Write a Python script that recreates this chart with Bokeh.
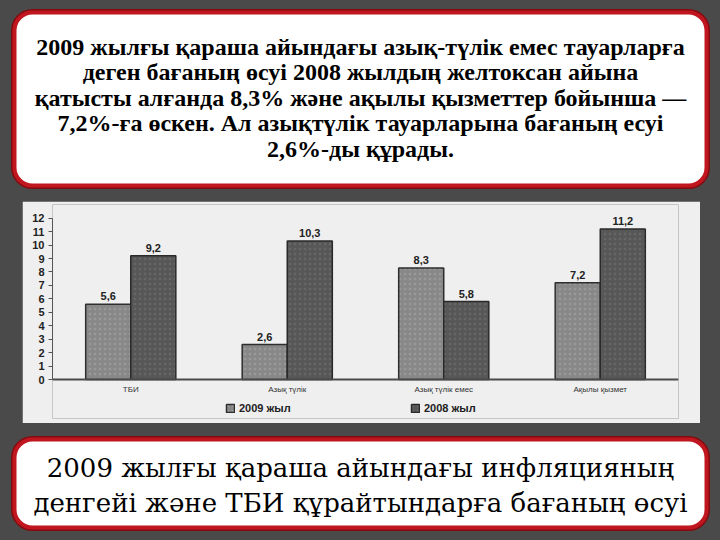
from bokeh.plotting import figure
from bokeh.models import (ColumnDataSource, Range1d, FactorRange, FixedTicker,
                          Legend, LegendItem, Spacer, Span)
from bokeh.layouts import column, row
from bokeh.transform import dodge
from bokeh.core.properties import value
from bokeh.embed import file_html
from bokeh.resources import INLINE

# ---------------- data ----------------
categories = ["ТБИ", "Азық түлік", "Азық түлік емес", "Ақылы қызмет"]
values_2009 = [5.6, 2.6, 8.3, 7.2]
values_2008 = [9.2, 10.3, 5.8, 11.2]
series_names = ["2009 жыл", "2008 жыл"]
y_ticks = list(range(0, 13))

title_lines = [
    "2009 жылғы қараша айындағы азық-түлік емес тауарларға",
    "деген бағаның өсуі 2008 жылдың желтоксан айына",
    "қатысты алғанда 8,3% және ақылы қызметтер бойынша —",
    "7,2%-ға өскен. Ал азықтүлік тауарларына бағаның есуі",
    "2,6%-ды құрады.",
]
caption_lines = [
    "2009 жылғы қараша айындағы инфляцияның",
    "денгейі және ТБИ құрайтындарға бағаның өсуі",
]

BG = "#4a4a4a"
RED = "#c0161f"
DARKRED = "#850b10"
PANEL = "#efefef"


def fmt(v):
    return f"{v:.1f}".replace(".", ",")


def text_panel(height, y0, box, lines, first_y, step, size, style, font):
    p = figure(width=720, height=height, output_backend="svg", toolbar_location=None,
               x_range=Range1d(0, 720), y_range=Range1d(y0 + height, y0),
               min_border=0, outline_line_color=None,
               background_fill_color=BG, border_fill_color=BG)
    p.axis.visible = False
    p.grid.visible = False
    l, r, t, b = box
    p.quad(left=[l], right=[r], top=[t], bottom=[b], fill_color="white",
           line_color=DARKRED, line_width=7, border_radius=18)
    p.quad(left=[l], right=[r], top=[t], bottom=[b], fill_color="white",
           line_color=RED, line_width=4, border_radius=18)
    ys = [first_y + i * step for i in range(len(lines))]
    xs = [(l + r) / 2] * len(lines)
    p.text(x=xs, y=ys, text=lines, text_align="center", text_baseline="middle",
           text_font=value(font), text_font_size=size, text_font_style=style,
           text_color="#000000")
    return p


top = text_panel(201, 0, (14, 706, 12, 185), title_lines, 46, 25.6,
                 "24px", "bold", "Liberation Serif")
bottom = text_panel(117, 423, (14, 706, 439, 527), caption_lines, 467, 35,
                    "26px", "normal", "DejaVu Serif")

# ---------------- chart ----------------
src = ColumnDataSource(dict(
    cat=categories,
    v2009=values_2009,
    v2008=values_2008,
    t2009=[fmt(v) for v in values_2009],
    t2008=[fmt(v) for v in values_2008],
))

c = figure(width=678, height=222, output_backend="svg", toolbar_location=None,
           x_range=FactorRange(*categories), y_range=Range1d(-2.9, 13.02),
           background_fill_color=PANEL, border_fill_color=PANEL,
           outline_line_color=None,
           min_border_left=30, min_border_right=22, min_border_top=3,
           min_border_bottom=5)
c.grid.visible = False
c.xaxis.visible = False

r1 = c.vbar(x=dodge("cat", -0.144, range=c.x_range), top="v2009", width=0.288,
            source=src, fill_color="#888888", line_color="#2e2e2e", line_width=1.5,
            hatch_pattern="dot", hatch_color="#c4c4c4", hatch_alpha=0.3,
            hatch_scale=5)
r2 = c.vbar(x=dodge("cat", 0.144, range=c.x_range), top="v2008", width=0.288,
            source=src, fill_color="#575757", line_color="#2a2a2a", line_width=1.5,
            hatch_pattern="dot", hatch_color="#8c8c8c", hatch_alpha=0.3,
            hatch_scale=5)

c.add_layout(Span(location=0, dimension="width", line_color="#4a4a4a", line_width=2))

c.text(x=dodge("cat", -0.144, range=c.x_range), y="v2009", text="t2009", source=src,
       text_align="center", text_baseline="bottom", y_offset=-4,
       text_font=value("Liberation Sans"), text_font_size="11px",
       text_font_style="bold", text_color="#222222")
c.text(x=dodge("cat", 0.144, range=c.x_range), y="v2008", text="t2008", source=src,
       text_align="center", text_baseline="bottom", y_offset=-4,
       text_font=value("Liberation Sans"), text_font_size="11px",
       text_font_style="bold", text_color="#222222")
c.text(x="cat", y=0, text="cat", source=src, text_align="center",
       text_baseline="middle", y_offset=10,
       text_font=value("Liberation Sans"), text_font_size="8px",
       text_color="#333333")

c.yaxis.ticker = FixedTicker(ticks=y_ticks)
c.yaxis.bounds = (0, 12)
c.yaxis.minor_tick_line_color = None
c.yaxis.major_tick_in = 0
c.yaxis.major_tick_out = 4
c.yaxis.axis_line_color = "#555555"
c.yaxis.major_tick_line_color = "#555555"
c.yaxis.major_label_text_font = "Liberation Sans"
c.yaxis.major_label_text_font_size = "11px"
c.yaxis.major_label_text_font_style = "bold"
c.yaxis.major_label_text_color = "#222222"
c.yaxis.major_label_standoff = 4

for rend, name, xloc in [(r1, series_names[0], 173), (r2, series_names[1], 358)]:
    leg = Legend(items=[LegendItem(label=name, renderers=[rend])],
                 location=(xloc, 4), orientation="horizontal",
                 border_line_color=None, background_fill_alpha=0,
                 padding=0, margin=0, glyph_width=10, glyph_height=10,
                 label_text_font="Liberation Sans", label_text_font_size="11px",
                 label_text_font_style="bold", label_text_color="#222222",
                 label_standoff=4, label_height=12)
    c.add_layout(leg, "center")

middle = row(Spacer(width=22, height=222), c, Spacer(width=20, height=222), spacing=0)
layout = column(top, middle, bottom, spacing=0)

html = file_html(layout, INLINE)
html = html.replace("</head>",
                    f"<style>body{{background-color:{BG};margin:0;}}</style></head>", 1)
open("out.html", "w").write(html)
